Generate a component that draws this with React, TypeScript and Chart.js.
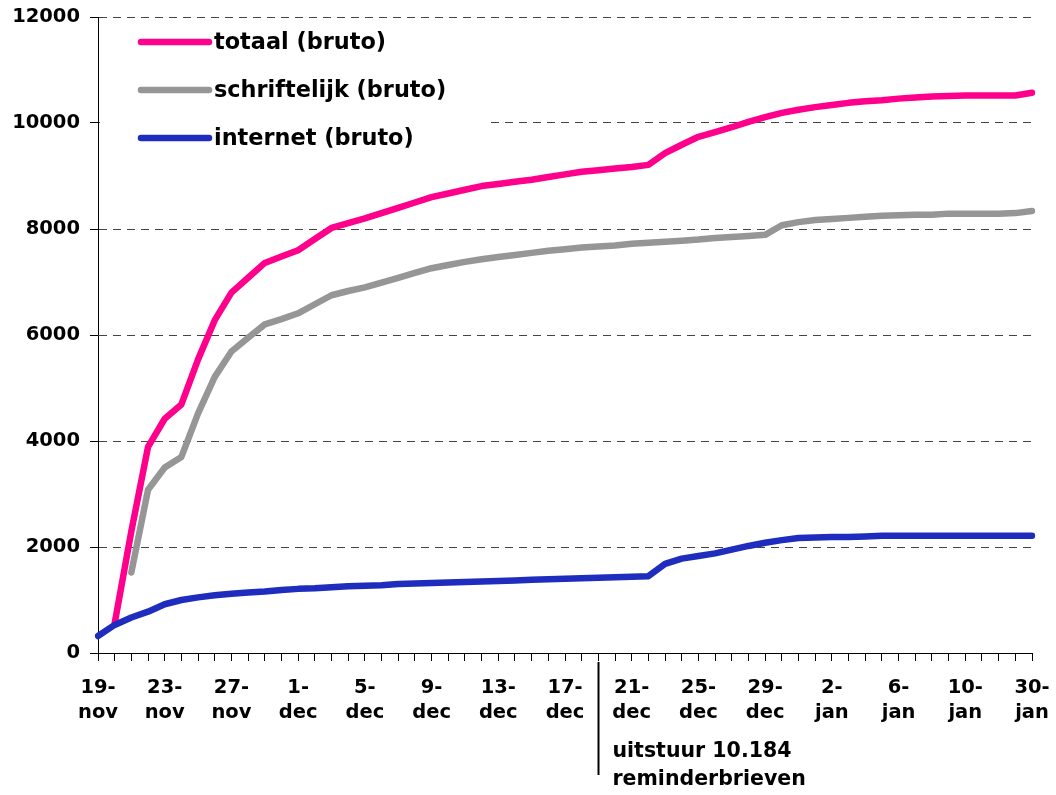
import React, { useEffect, useRef } from "react";
import { Chart, registerables } from "chart.js";

Chart.register(...registerables);

const dates: string[] = [
  "19-nov", "20-nov", "21-nov", "22-nov", "23-nov", "24-nov", "25-nov", "26-nov", "27-nov", "28-nov", "29-nov", "30-nov",
  "1-dec", "2-dec", "3-dec", "4-dec", "5-dec", "6-dec", "7-dec", "8-dec", "9-dec", "10-dec", "11-dec", "12-dec",
  "13-dec", "14-dec", "15-dec", "16-dec", "17-dec", "18-dec", "19-dec", "20-dec", "21-dec", "22-dec", "23-dec", "24-dec",
  "25-dec", "26-dec", "27-dec", "28-dec", "29-dec", "30-dec", "31-dec", "1-jan", "2-jan", "3-jan", "4-jan", "5-jan",
  "6-jan", "7-jan", "8-jan", "9-jan", "10-jan", "14-jan", "19-jan", "24-jan", "30-jan",
];

const totaal: (number | null)[] = [
  null, 560, 2300, 3890, 4420, 4690, 5540, 6280, 6800, 7080, 7360, 7480, 7600, 7810, 8020, 8110, 8200, 8300, 8400,
  8500, 8600, 8670, 8740, 8810, 8850, 8890, 8930, 8980, 9030, 9080, 9110, 9140, 9170, 9210, 9430, 9590, 9740, 9830,
  9920, 10020, 10110, 10190, 10250, 10300, 10340, 10380, 10410, 10430, 10460, 10480, 10500, 10510, 10520, 10520,
  10520, 10520, 10570,
];

const schriftelijk: (number | null)[] = [
  null, null, 1520, 3080, 3500, 3700, 4520, 5210, 5690, 5950, 6200, 6300, 6410, 6580, 6750, 6830, 6900, 6990, 7080,
  7170, 7260, 7320, 7380, 7430, 7470, 7510, 7550, 7590, 7620, 7650, 7670, 7690, 7720, 7740, 7760, 7780, 7800, 7830,
  7850, 7870, 7890, 8070, 8130, 8170, 8190, 8210, 8230, 8250, 8260, 8270, 8270, 8290, 8290, 8290, 8290, 8300, 8340,
];

const internet: number[] = [
  320, 530, 670, 780, 920, 1000, 1050, 1090, 1120, 1140, 1160, 1190, 1210, 1220, 1240, 1260, 1270, 1280, 1300, 1310,
  1320, 1330, 1340, 1350, 1360, 1370, 1380, 1390, 1400, 1410, 1420, 1430, 1440, 1450, 1680, 1780, 1830, 1880, 1950,
  2020, 2080, 2130, 2170, 2180, 2190, 2190, 2200, 2210, 2210, 2210, 2210, 2210, 2210, 2210, 2210, 2210, 2210,
];

const seriesLabels = ["totaal (bruto)", "schriftelijk (bruto)", "internet (bruto)"];
const seriesColors = ["#FF008C", "#969696", "#1E2DBE"];

const annotationIndex = 30; // 19-dec
const annotationLines = ["uitstuur 10.184", "reminderbrieven"];

const yTicks = [0, 2000, 4000, 6000, 8000, 10000, 12000];

const FONT = '"DejaVu Sans", sans-serif';

const overlayPlugin = {
  id: "overlay",
  afterDraw(chart: any) {
    const ctx = chart.ctx as CanvasRenderingContext2D;
    ctx.save();
    // legend box
    ctx.fillStyle = "#ffffff";
    ctx.fillRect(100, 27, 385, 133);
    const rowsY = [42, 90, 138];
    chart.data.datasets.forEach((ds: any, i: number) => {
      const y = rowsY[i];
      ctx.strokeStyle = ds.borderColor;
      ctx.lineWidth = 6.5;
      ctx.lineCap = "round";
      ctx.beginPath();
      ctx.moveTo(141, y);
      ctx.lineTo(209, y);
      ctx.stroke();
      ctx.fillStyle = "#000";
      ctx.font = `bold 22.4px ${FONT}`;
      ctx.textBaseline = "middle";
      ctx.textAlign = "left";
      ctx.fillText(ds.label, 214, y + 1);
    });
    // annotation
    const xs = chart.scales.x;
    const x = Math.round(xs.getPixelForValue(annotationIndex)) + 0.5;
    ctx.strokeStyle = "#000";
    ctx.lineWidth = 2;
    ctx.lineCap = "butt";
    ctx.beginPath();
    ctx.moveTo(x, chart.chartArea.bottom + 9);
    ctx.lineTo(x, 775);
    ctx.stroke();
    ctx.fillStyle = "#000";
    ctx.font = `bold 20.5px ${FONT}`;
    ctx.textBaseline = "middle";
    ctx.textAlign = "left";
    ctx.fillText(annotationLines[0], x + 14, 752);
    ctx.fillText(annotationLines[1], x + 14, 780);
    ctx.restore();
  },
};

export default function App() {
  const ref = useRef<HTMLCanvasElement>(null);

  useEffect(() => {
    const canvas = ref.current;
    if (!canvas) return;
    const series = [totaal, schriftelijk, internet];
    const chart = new Chart(canvas, {
      type: "line",
      data: {
        labels: dates,
        datasets: series.map((data, i) => ({
          label: seriesLabels[i],
          data,
          borderColor: seriesColors[i],
          backgroundColor: seriesColors[i],
          borderWidth: 6.5,
          borderCapStyle: "round",
          borderJoinStyle: "round",
          pointRadius: 0,
          tension: 0,
          fill: false,
          spanGaps: false,
          order: 2 - i,
        })),
      },
      options: {
        responsive: false,
        animation: false,
        devicePixelRatio: 1,
        layout: { padding: { left: 0, top: 17, right: 24, bottom: 0 } },
        plugins: {
          legend: { display: false },
          tooltip: { enabled: false },
        },
        scales: {
          x: {
            type: "category",
            offset: false,
            afterFit: (scale: any) => {
              scale.height = 142;
              scale.paddingLeft = 0;
              scale.paddingRight = 0;
            },
            grid: {
              display: true,
              drawOnChartArea: false,
              drawTicks: true,
              tickLength: 8,
              tickColor: "#000",
              tickWidth: 1,
            },
            border: { display: true, color: "#000", width: 1 },
            ticks: {
              autoSkip: false,
              maxRotation: 0,
              minRotation: 0,
              padding: 15,
              color: "#000",
              font: { family: FONT, size: 19.5, weight: "bold", lineHeight: 1.25 },
              callback: (_v: any, index: number) => {
                if (index % 4 !== 0) return "";
                const [d, m] = dates[index].split("-");
                return [d + "-", m];
              },
            },
          },
          y: {
            min: 0,
            max: 12000,
            afterFit: (scale: any) => {
              scale.width = 98;
              scale.paddingTop = 0;
              scale.paddingBottom = 0;
            },
            afterBuildTicks: (scale: any) => {
              scale.ticks = yTicks.map((v) => ({ value: v }));
            },
            grid: {
              display: true,
              drawOnChartArea: true,
              color: "#444",
              lineWidth: 1,
              drawTicks: true,
              tickLength: 8,
              tickColor: "#000",
              tickWidth: 1,
              tickBorderDash: [],
            },
            border: { display: true, color: "#000", width: 1, dash: [8, 6] },
            ticks: {
              padding: 10,
              color: "#000",
              font: { family: FONT, size: 19.5, weight: "bold" },
              callback: (v: any) => String(v),
            },
          },
        },
      },
      plugins: [overlayPlugin],
    } as any);
    return () => chart.destroy();
  }, []);

  return (
    <div style={{ position: "fixed", left: 0, top: 0, width: 1056, height: 795, background: "#fff" }}>
      <canvas ref={ref} width={1056} height={795} style={{ display: "block", width: 1056, height: 795 }} />
    </div>
  );
}
